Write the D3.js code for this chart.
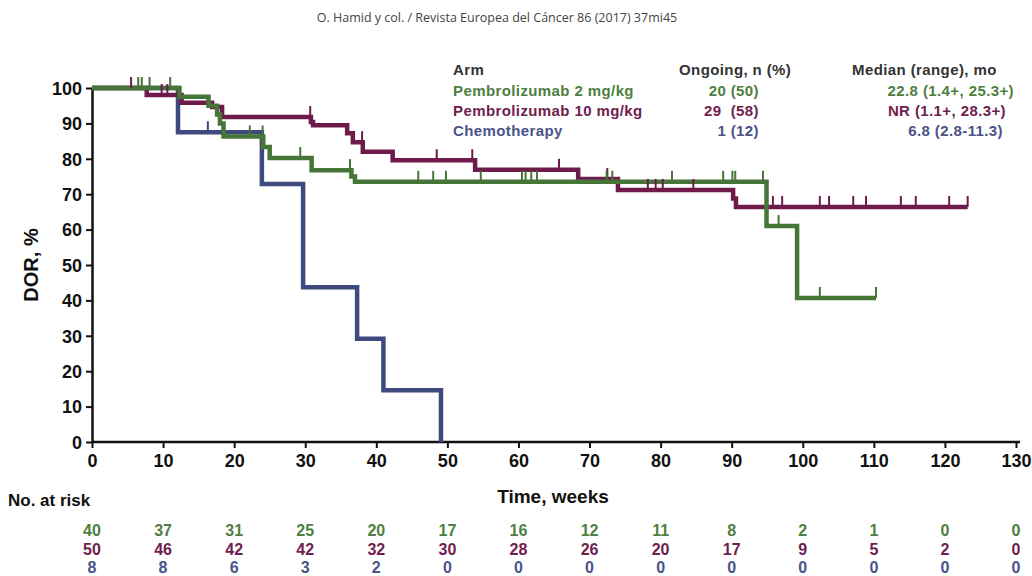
<!DOCTYPE html>
<html>
<head>
<meta charset="utf-8">
<script src="https://cdn.jsdelivr.net/npm/d3@7"></script>
<style>
  body { margin: 0; background: #fff; }
  svg { display: block; }
  .ax text { font-family: "Liberation Sans Narrow", "Arial Narrow", "Liberation Sans", Arial, sans-serif; font-weight: bold; font-size: 18px; fill: #111; }
  .lg { font-family: "Liberation Sans", Arial, sans-serif; font-weight: bold; font-size: 15px; letter-spacing: 0.4px; }
</style>
</head>
<body>
<svg id="chart" width="1032" height="576"></svg>
<script>
// arms
const arms = ["Pembrolizumab 2 mg/kg", "Pembrolizumab 10 mg/kg", "Chemotherapy"];
const lineColors = ["#467538", "#6e1b4c", "#3e4a7e"];
const textColors = ["#4e7f41", "#701d4f", "#4a5388"];
const ongoing = ["20 (50)", "29  (58)", "1 (12)"];
const medians = ["22.8 (1.4+, 25.3+)", "NR (1.1+, 28.3+)", "6.8 (2.8-11.3)"];

// KM steps [week, DOR %] per arm, last point is end of follow-up
const green = [[0, 100], [12.3, 97.5], [16.4, 95], [17.6, 92.5], [18.0, 90], [18.5, 86.3],
  [24.1, 83.3], [25.0, 80.2], [30.9, 76.8], [36.5, 75], [37.0, 73.5], [94.9, 61], [99.2, 40.7], [110.3, 40.7]];
const purple = [[0, 100], [7.7, 98], [12.6, 95.8], [16.9, 94.6], [18.3, 91.8], [30.8, 90.4], [31.1, 89.5],
  [35.9, 87.2], [36.7, 84.7], [38.1, 82], [42.3, 79.6], [53.9, 76.9], [68.4, 74.3], [74.0, 71.2],
  [90.2, 68.8], [90.6, 66.4], [123.2, 66.4]];
const chemo = [[0, 100], [12.1, 87.5], [23.9, 72.9], [29.7, 43.75], [37.3, 29.2], [41.0, 14.6], [49.1, 0]];

// censored times (weeks)
const greenCens = [6.5, 7.0, 8.1, 11.0, 22.2, 24.0, 29.3, 36.3, 45.9, 48.0, 49.8, 54.7, 60.5, 61.0, 61.8, 62.6,
  72.4, 73.2, 81.6, 88.8, 90.1, 90.5, 94.4, 96.6, 102.4, 110.3];
const purpleCens = [5.5, 9.8, 10.6, 30.7, 38.0, 48.5, 53.5, 65.7, 72.5, 78.2, 79.3, 80.3, 84.6,
  95.8, 97.1, 102.4, 103.7, 107.1, 108.9, 113.8, 115.9, 120.6, 123.2];
const chemoCens = [16.3];

// number at risk
const riskWeeks = d3.range(0, 131, 10);
const riskGreen = [40, 37, 31, 25, 20, 17, 16, 12, 11, 8, 2, 1, 0, 0];
const riskPurple = [50, 46, 42, 42, 32, 30, 28, 26, 20, 17, 9, 5, 2, 0];
const riskChemo = [8, 8, 6, 3, 2, 0, 0, 0, 0, 0, 0, 0, 0, 0];

const xTicks = d3.range(0, 131, 10);
const yTicks = d3.range(0, 101, 10);

const svg = d3.select("#chart");
const x = d3.scaleLinear().domain([0, 130]).range([92, 1016]);
const y = d3.scaleLinear().domain([0, 100]).range([442, 88]);

// title
svg.append("text")
  .attr("x", 497).attr("y", 22)
  .attr("text-anchor", "middle")
  .style("font-family", "'Open Sans', sans-serif")
  .style("font-size", "12.5px")
  .style("fill", "#444")
  .text("O. Hamid y col. / Revista Europea del Cáncer 86 (2017) 37mi45");

// axes
const xAxis = svg.append("g").attr("class", "ax")
  .attr("transform", `translate(0,${y(0)})`)
  .call(d3.axisBottom(x).tickValues(xTicks).tickSize(6).tickPadding(6).tickSizeOuter(0));
const yAxis = svg.append("g").attr("class", "ax")
  .attr("transform", `translate(${x(0)},0)`)
  .call(d3.axisLeft(y).tickValues(yTicks).tickSize(6).tickPadding(4).tickSizeOuter(0));
[xAxis, yAxis].forEach(g => {
  g.select(".domain").attr("stroke", "#111").attr("stroke-width", 2.5);
  g.selectAll(".tick line").attr("stroke", "#111").attr("stroke-width", 2);
});
xAxis.select(".domain").attr("d", `M${x(0)},0H${x(130) + 4}`);
yAxis.selectAll(".tick text").attr("dy", "0.35em");

svg.append("text").attr("class", "ax")
  .attr("transform", `translate(38,${(y(0) + y(100)) / 2}) rotate(-90)`)
  .attr("text-anchor", "middle")
  .style("font-family", "'Liberation Sans', Arial, sans-serif")
  .style("font-weight", "bold").style("font-size", "20px").style("fill", "#111")
  .text("DOR, %");

svg.append("text")
  .attr("x", 553).attr("y", 503)
  .attr("text-anchor", "middle")
  .style("font-family", "'Liberation Sans', Arial, sans-serif")
  .style("font-weight", "bold").style("font-size", "19px").style("fill", "#111")
  .text("Time, weeks");

svg.append("text")
  .attr("x", 8).attr("y", 506)
  .style("font-family", "'Liberation Sans Narrow', 'Liberation Sans', Arial, sans-serif")
  .style("font-weight", "bold").style("font-size", "17px").style("fill", "#111")
  .text("No. at risk");

// curves
const line = d3.line().x(d => x(d[0])).y(d => y(d[1])).curve(d3.curveStepAfter);
const curves = [green, purple, chemo];
const cens = [greenCens, purpleCens, chemoCens];

function valueAt(steps, t) {
  let v = steps[0][1];
  for (const s of steps) { if (s[0] <= t) v = s[1]; }
  return v;
}

[2, 1, 0].forEach(i => {
  svg.append("path")
    .attr("d", line(curves[i]))
    .attr("fill", "none")
    .attr("stroke", lineColors[i])
    .attr("stroke-width", 4.5);
});
[2, 1, 0].forEach(i => {
  svg.append("g").selectAll("line")
    .data(cens[i])
    .join("line")
    .attr("x1", d => x(d)).attr("x2", d => x(d))
    .attr("y1", d => y(valueAt(curves[i], d)))
    .attr("y2", d => y(valueAt(curves[i], d)) - 11)
    .attr("stroke", lineColors[i])
    .attr("stroke-width", 2);
});

// legend table
const lg = svg.append("g").attr("class", "lg");
const rowY = [96, 116, 136];
lg.append("text").attr("x", 453).attr("y", 75).style("fill", "#333").text("Arm");
lg.append("text").attr("x", 679).attr("y", 75).style("fill", "#333").text("Ongoing, n (%)");
lg.append("text").attr("x", 852).attr("y", 75).style("fill", "#333").text("Median (range), mo");
arms.forEach((a, i) => {
  lg.append("text").attr("x", 453).attr("y", rowY[i]).style("fill", textColors[i]).text(a);
  lg.append("text").attr("x", 759).attr("y", rowY[i]).attr("text-anchor", "end")
    .style("fill", textColors[i]).attr("xml:space", "preserve").text(ongoing[i]);
  lg.append("text").attr("x", [1014, 1006, 1003][i]).attr("y", rowY[i]).attr("text-anchor", "end")
    .style("fill", textColors[i]).text(medians[i]);
});

// risk table
const riskRows = [riskGreen, riskPurple, riskChemo];
const riskY = [536, 555, 573];
riskRows.forEach((row, i) => {
  svg.append("g").selectAll("text")
    .data(row)
    .join("text")
    .attr("x", (d, j) => x(riskWeeks[j]))
    .attr("y", riskY[i])
    .attr("text-anchor", "middle")
    .style("font-family", "'Liberation Sans Narrow', 'Liberation Sans', Arial, sans-serif")
    .style("font-weight", "bold").style("font-size", "16px")
    .style("fill", textColors[i])
    .text(d => d);
});
</script>
</body>
</html>
